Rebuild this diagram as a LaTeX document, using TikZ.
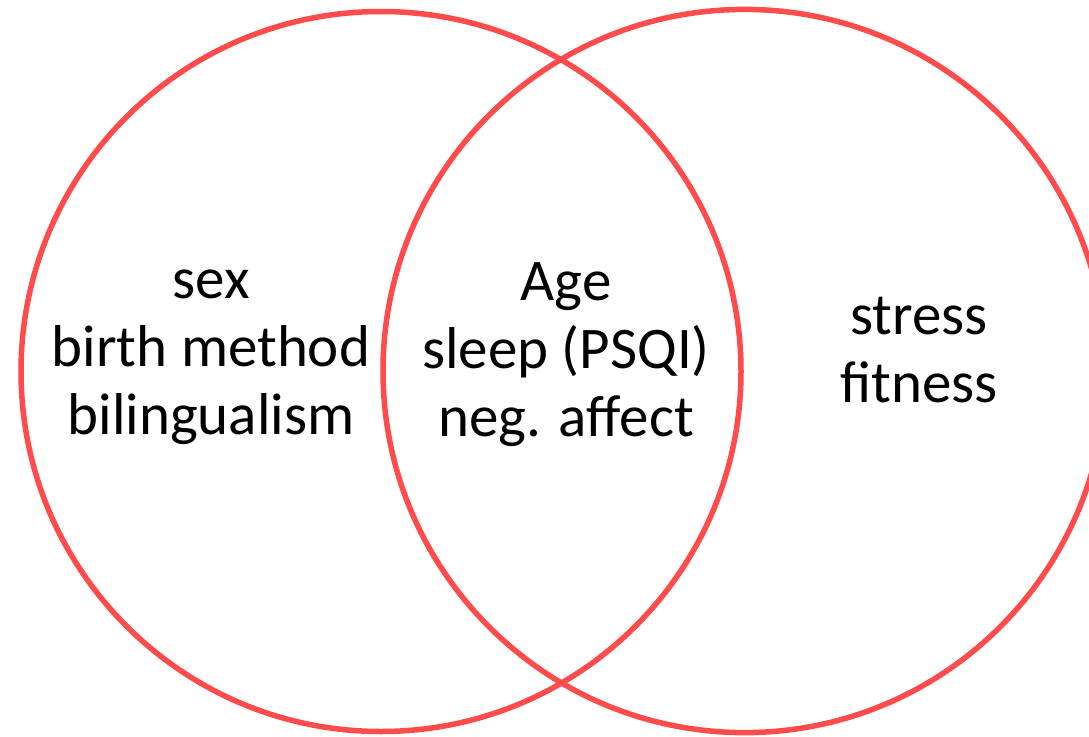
\documentclass[tikz,border=0pt]{standalone}
\usepackage{fontspec}
\setmainfont{Carlito}
\definecolor{vennred}{RGB}{255,75,75}
\tikzset{
  venn/.style={draw=vennred, line width=5.5pt},
  lbl/.style={anchor=base, inner sep=0pt, font=\fontsize{59}{68}\selectfont, text=black}
}
\begin{document}
\begin{tikzpicture}[x=1pt,y=-1pt]
\useasboundingbox (0,0) rectangle (1089,736);
\clip (0,0) rectangle (1089,736);
\draw[venn] (381,371.5) circle[radius=360];
\draw[venn] (744.6,371) circle[radius=361.6];
% left set
\node[lbl] (l1) at (211,298) {sex};
\node[lbl] (l2) at (211,366) {birth method};
\node[lbl] (l3) at (211,434) {bilingualism};
% intersection
\node[lbl] (m1) at (566,300) {Age};
\node[lbl] (m2) at (566,368) {sleep (PSQI)};
\node[lbl] (m3) at (566,436) {neg. affect};
% right set
\node[lbl] (r1) at (919,334) {stress};
\node[lbl] (r2) at (919,402) {fitness};
\end{tikzpicture}
\end{document}
